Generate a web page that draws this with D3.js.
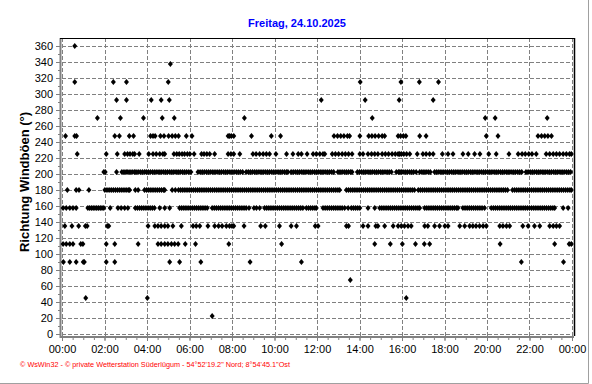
<!DOCTYPE html>
<html><head><meta charset="utf-8">
<script src="https://cdn.jsdelivr.net/npm/d3@7"></script>
<style>html,body{margin:0;padding:0;background:#fff;}svg{display:block;}</style>
</head><body>
<svg id="c" width="592" height="384"></svg>
<script>
// Wind gust direction samples: minutes after midnight, grouped by direction (degrees)
const title = "Freitag, 24.10.2025";
const yTitle = "Richtung Windböen  (°)";
const footer = "© WsWin32  -  © private Wetterstation Süderlügum  -  54°52'19.2\" Nord; 8°54'45.1\"Ost";
const xTickLabels = ["00:00","02:00","04:00","06:00","08:00","10:00","12:00","14:00","16:00","18:00","20:00","22:00","00:00"];
const yTickValues = [0,20,40,60,80,100,120,140,160,180,200,220,240,260,280,300,320,340,360];

const t360 = [36];
const t337 = [306];
const t315 = [36,145,182,300,842,957,1009,1063];
const t292 = [154,182,252,280,303,732,856,952,1048];
const t270 = [100,165,230,283,317,515,876,1195,1223,1370];
const t247 = [10,36,41,149,162,190,202,250,257,263,278,288,301,311,320,329,351,367,469,473,478,485,535,591,617,768,778,787,796,806,812,841,866,875,884,894,904,911,949,956,964,971,1010,1028,1198,1231,1344,1354,1363,1372,1382];
const t225 = [43,125,156,177,185,192,200,205,218,245,257,266,276,285,290,316,324,331,339,346,354,361,373,394,401,409,417,431,469,477,485,502,539,548,558,568,577,586,604,634,652,667,676,692,709,718,728,737,742,763,772,781,791,800,809,819,841,850,864,874,883,892,904,913,922,932,941,949,953,958,965,973,982,1003,1019,1028,1038,1048,1074,1090,1104,1132,1147,1165,1180,1205,1226,1262,1288,1299,1308,1318,1327,1339,1367,1377,1387,1396,1405,1415,1424,1433,1438];
const t202 = [118,122,154,169,175,181,186,192,198,204,209,215,221,227,233,238,244,250,256,262,268,274,280,286,292,298,304,310,316,322,328,334,340,346,352,358,364,384,390,396,402,408,414,420,426,432,438,444,450,456,462,468,474,480,486,492,498,504,510,520,526,532,538,544,550,556,562,568,574,580,586,592,598,604,610,616,622,628,634,638,647,653,659,665,671,677,683,689,695,701,707,713,719,725,731,737,743,749,755,761,767,779,785,791,797,803,809,815,819,834,840,846,852,858,864,870,876,882,888,894,900,906,912,918,924,930,944,950,954,958,963,969,975,981,987,993,1000,1010,1016,1022,1028,1034,1040,1052,1058,1064,1070,1076,1082,1088,1094,1100,1106,1112,1118,1124,1130,1136,1142,1148,1154,1160,1166,1172,1178,1184,1190,1196,1202,1208,1214,1220,1226,1232,1238,1244,1250,1256,1262,1268,1274,1280,1286,1292,1298,1310,1316,1322,1328,1334,1340,1346,1352,1358,1364,1370,1376,1382,1388,1394,1400,1406,1412,1418,1424,1430,1436];
const t180 = [15,40,48,76,121,127,133,139,145,151,157,163,169,175,181,187,191,207,215,233,239,245,251,257,263,269,275,281,287,290,311,320,329,335,341,347,353,359,365,371,377,383,389,395,401,407,413,419,425,431,437,443,449,455,461,467,473,479,485,491,497,503,509,515,521,527,533,539,545,551,557,563,569,575,581,587,593,599,605,611,617,623,629,635,641,647,653,659,665,671,677,683,689,695,701,707,713,719,725,731,737,743,749,755,761,767,773,779,784,803,809,815,821,827,833,839,845,851,857,863,869,875,881,887,893,899,905,911,917,923,929,935,941,947,953,959,965,971,977,983,989,995,1006,1012,1018,1024,1030,1036,1042,1048,1054,1060,1066,1072,1078,1084,1090,1096,1102,1108,1114,1120,1126,1132,1138,1144,1150,1156,1162,1168,1174,1180,1186,1192,1198,1204,1210,1216,1222,1228,1234,1240,1246,1252,1258,1272,1278,1284,1290,1296,1302,1308,1314,1320,1326,1332,1338,1344,1350,1356,1362,1368,1374,1380,1386,1392,1398,1404,1410,1416,1422,1428,1434,1438];
const t157 = [3,12,22,31,40,73,78,83,88,93,98,103,108,113,118,136,158,167,177,186,207,213,219,225,231,237,243,249,255,261,276,290,304,332,338,344,350,356,362,368,374,380,386,392,398,404,410,424,430,436,442,448,454,460,466,472,478,484,490,496,502,508,514,520,528,542,549,558,572,578,584,590,596,602,608,614,620,626,632,638,644,650,656,662,668,674,680,690,696,702,708,714,718,737,743,749,755,761,767,773,779,785,791,798,808,817,823,829,835,841,864,883,897,903,909,915,921,927,933,939,945,951,957,963,969,975,981,987,993,999,1005,1010,1024,1030,1036,1042,1048,1054,1060,1066,1072,1078,1084,1090,1096,1102,1108,1114,1118,1132,1138,1144,1150,1156,1162,1168,1174,1180,1186,1193,1212,1218,1224,1230,1236,1242,1248,1254,1260,1266,1272,1278,1284,1290,1296,1302,1308,1314,1320,1326,1332,1338,1344,1350,1356,1362,1368,1374,1380,1386,1391,1415,1429];
const t135 = [8,28,47,66,71,128,132,243,262,271,280,290,299,313,337,370,379,389,412,431,442,452,464,473,480,485,514,561,574,614,647,662,715,723,803,809,850,864,886,892,911,935,949,958,967,977,986,1024,1033,1052,1066,1081,1090,1123,1137,1151,1160,1169,1179,1189,1198,1236,1245,1255,1264,1301,1316,1334,1349,1377,1387,1396,1405];
const t112 = [3,12,22,31,53,59,125,149,215,271,280,290,299,309,318,328,348,377,471,620,883,927,961,998,1023,1038,1237,1391,1432,1438];
const t90 = [4,22,40,60,63,125,149,304,332,392,531,676,1297,1416];
const t67 = [814];
const t45 = [67,241,972];
const t22 = [424];

const rows = [
  [360, t360],[337.5, t337],[315, t315],[292.5, t292],[270, t270],[247.5, t247],
  [225, t225],[202.5, t202],[180, t180],[157.5, t157],[135, t135],[112.5, t112],
  [90, t90],[67.5, t67],[45, t45],[22.5, t22]
];
const points = [];
rows.forEach(([dir, times]) => times.forEach(t => points.push({t, dir})));

const svg = d3.select("#c");
const font = "'Liberation Sans', Arial, sans-serif";
const x = d3.scaleLinear().domain([0, 1440]).range([62, 572]);
const y = d3.scaleLinear().domain([0, 360]).range([334, 46]);

// outer frame (light bevel at right/bottom)
svg.append("line").attr("x1",588.5).attr("x2",588.5).attr("y1",0).attr("y2",383.5).attr("stroke","#a0a0a0");
svg.append("line").attr("x1",0).attr("x2",588.5).attr("y1",383.5).attr("y2",383.5).attr("stroke","#a0a0a0");

// title
svg.append("text").attr("x",297).attr("y",27).attr("text-anchor","middle")
  .attr("font-family",font).attr("font-size",11).attr("font-weight","bold").attr("fill","#0000ff").text(title);

// grid
const xGrid = d3.range(0, 1441, 120);
svg.append("g").selectAll("line").data(yTickValues).join("line")
  .attr("x1",62).attr("x2",572).attr("y1",d=>Math.round(y(d))+0.5).attr("y2",d=>Math.round(y(d))+0.5)
  .attr("stroke","#808080").attr("stroke-dasharray","4,2");
svg.append("g").selectAll("line").data(xGrid).join("line")
  .attr("y1",38).attr("y2",336).attr("x1",d=>Math.round(x(d))+0.5).attr("x2",d=>Math.round(x(d))+0.5)
  .attr("stroke","#808080").attr("stroke-dasharray","4,2");

// x axis
const xAxis = d3.axisBottom(x).tickValues(xGrid).tickSize(4).tickPadding(4)
  .tickFormat((d,i)=>xTickLabels[i]);
const gx = svg.append("g").attr("transform","translate(0,337)").call(xAxis);
const gxm = svg.append("g").attr("transform","translate(0,337)")
  .call(d3.axisBottom(x).tickValues(d3.range(0,1441,30)).tickSize(3).tickFormat(""));
// y axis
const yAxis = d3.axisLeft(y).tickValues(yTickValues).tickSize(4).tickPadding(3);
const gy = svg.append("g").attr("transform","translate(60,0)").call(yAxis);
const gym = svg.append("g").attr("transform","translate(60,0)")
  .call(d3.axisLeft(y).tickValues(d3.range(0,361,10)).tickSize(2).tickFormat(""));
[gx,gxm,gy,gym].forEach(g=>{
  g.selectAll("path.domain").remove();
  g.selectAll("line").attr("stroke","#808080");
  g.selectAll("text").attr("font-family",font).attr("font-size",11).attr("fill","#000");
});
// axis lines
svg.append("line").attr("x1",60.5).attr("x2",60.5).attr("y1",38).attr("y2",338).attr("stroke","#808080").attr("stroke-width",2);
svg.append("line").attr("x1",60).attr("x2",574).attr("y1",337).attr("y2",337).attr("stroke","#808080").attr("stroke-width",2);
// top & right frame
svg.append("line").attr("x1",60).attr("x2",574.5).attr("y1",38.5).attr("y2",38.5).attr("stroke","#000");
svg.append("line").attr("x1",574.5).attr("x2",574.5).attr("y1",38).attr("y2",336).attr("stroke","#000").attr("stroke-width",1.5);

// y title
svg.append("text").attr("transform","translate(29,182) rotate(-90)").attr("text-anchor","middle")
  .attr("font-family",font).attr("font-size",13).attr("font-weight","bold").attr("fill","#000").text(yTitle);

// points
svg.append("g").selectAll("path").data(points).join("path")
  .attr("transform",d=>`translate(${x(d.t)},${y(d.dir)})`)
  .attr("d","M0,-3L2.5,0L0,3L-2.5,0Z").attr("fill","#000");

// footer
svg.append("text").attr("x",20).attr("y",367).attr("font-family",font).attr("font-size",8)
  .attr("fill","#ff0000").attr("textLength",270).attr("lengthAdjust","spacingAndGlyphs").text(footer);
</script>
</body></html>
